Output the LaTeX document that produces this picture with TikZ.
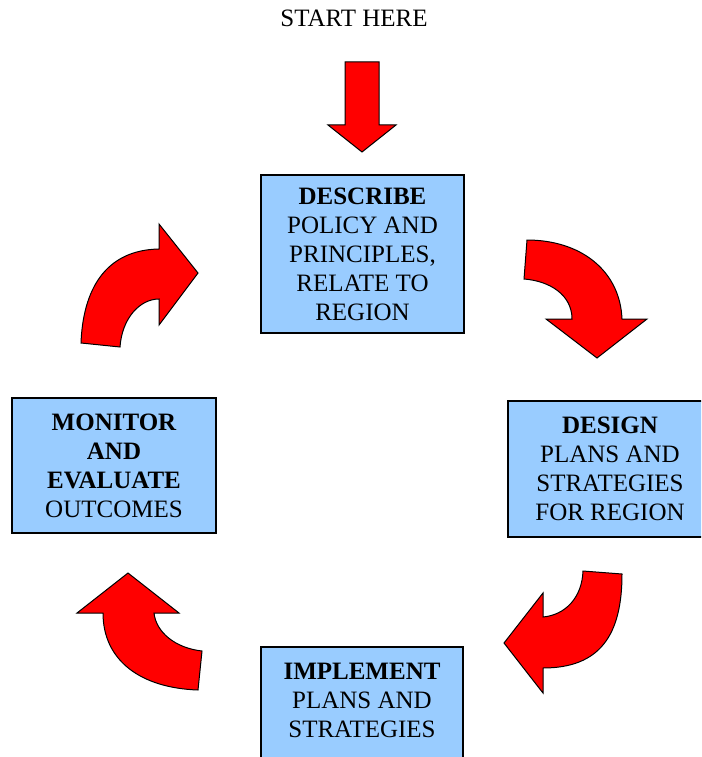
\documentclass[tikz,border=0pt]{standalone}
\usepackage{fontspec}
\setmainfont{Liberation Serif}
\definecolor{stageblue}{HTML}{99CCFF}
\definecolor{arrowred}{HTML}{FF0000}
\newcommand{\stagehead}[1]{{\bfseries #1}}
\begin{document}
\begin{tikzpicture}[x=1pt,y=-1pt,
  stage/.style={draw=black, line width=1.2pt, fill=stageblue, inner sep=0pt,
    align=center, font=\fontsize{25}{29}\selectfont},
  bigarrow/.style={draw=black, line width=1pt, fill=arrowred, line join=miter},
  starttext/.style={font=\fontsize{25}{29}\selectfont, inner sep=0pt}
]
\clip (0,0) rectangle (701,757);

% stage boxes
\node[stage, minimum width=203pt, minimum height=158pt] (describe) at (362.5,254)
  {\stagehead{DESCRIBE}\\POLICY AND\\PRINCIPLES,\\RELATE TO\\REGION};
\node[stage, minimum width=204pt, minimum height=136pt] (design) at (610,469)
  {\stagehead{DESIGN}\\PLANS AND\\STRATEGIES\\FOR REGION};
\node[stage, minimum width=202pt, minimum height=136pt] (implement) at (362,715)
  {\stagehead{IMPLEMENT}\\PLANS AND\\STRATEGIES\\\phantom{X}};
\node[stage, minimum width=204pt, minimum height=135pt] (monitor) at (114,465.5)
  {\stagehead{MONITOR}\\\stagehead{AND}\\\stagehead{EVALUATE}\\OUTCOMES};

% entry point
\node[starttext] (start) at (354,18) {START HERE};
\draw[bigarrow] (345,62) -- (379,62) -- (379,125) -- (396,125) -- (362,152)
  -- (328,125) -- (345,125) -- cycle;

% curved arrows round the cycle
\draw[bigarrow] (81,343) .. controls (83,290) and (105,250) .. (159,249)
  -- (159,224) -- (198,273) -- (159,325) -- (159,299)
  .. controls (140,299) and (122,318) .. (120,347) -- cycle;

\draw[bigarrow] (527,240) .. controls (580,240) and (620,270) .. (622,319)
  -- (647,319) -- (597,358) -- (546,319) -- (572,319)
  .. controls (572,295) and (550,281) .. (524,279) -- cycle;

\draw[bigarrow] (622,574) .. controls (622,635) and (600,668) .. (543,668)
  -- (543,693) -- (504,643) -- (543,593) -- (543,617)
  .. controls (565,615) and (582,598) .. (583,571) -- cycle;

\draw[bigarrow] (198,690) .. controls (140,688) and (103,660) .. (103,613)
  -- (77,613) -- (128,573) -- (179,613) -- (154,613)
  .. controls (156,632) and (175,648) .. (202,651) -- cycle;
\end{tikzpicture}
\end{document}
